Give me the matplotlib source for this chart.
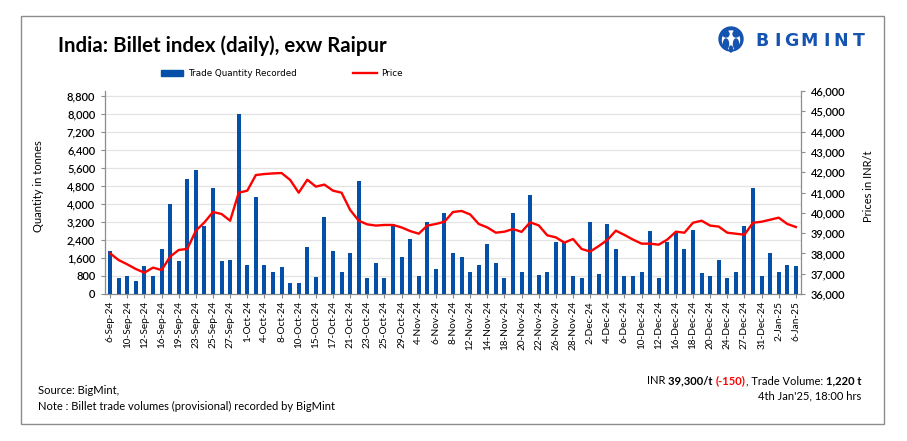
import matplotlib
matplotlib.use("Agg")
import matplotlib.pyplot as plt
from matplotlib.patches import Rectangle, Ellipse
from matplotlib.lines import Line2D
from matplotlib.font_manager import FontProperties
import numpy as np

# ---------------- data ----------------
tick_labels = ["6-Sep-24", "10-Sep-24", "12-Sep-24", "16-Sep-24", "19-Sep-24", "23-Sep-24",
               "25-Sep-24", "27-Sep-24", "1-Oct-24", "4-Oct-24", "8-Oct-24", "10-Oct-24",
               "15-Oct-24", "17-Oct-24", "21-Oct-24", "23-Oct-24", "25-Oct-24", "29-Oct-24",
               "4-Nov-24", "6-Nov-24", "8-Nov-24", "12-Nov-24", "14-Nov-24", "18-Nov-24",
               "20-Nov-24", "22-Nov-24", "26-Nov-24", "28-Nov-24", "2-Dec-24", "4-Dec-24",
               "6-Dec-24", "10-Dec-24", "12-Dec-24", "16-Dec-24", "18-Dec-24", "20-Dec-24",
               "24-Dec-24", "27-Dec-24", "31-Dec-24", "2-Jan-25", "6-Jan-25"]

quantity = [1900, 700, 800, 580, 1240, 800, 2000, 4000, 1460, 5100,
            5500, 3000, 4700, 1460, 1500, 8000, 1280, 4300, 1280, 970,
            1200, 490, 490, 2080, 750, 3400, 1900, 970, 1820, 5000,
            710, 1370, 710, 3100, 1640, 2440, 800, 3190, 1110, 3590,
            1820, 1640, 970, 1280, 2210, 1370, 710, 3590, 970, 4380,
            840, 970, 2300, 2300, 800, 710, 3190, 890, 3100, 2000,
            800, 800, 970, 2790, 710, 2300, 2750, 2000, 2830, 930,
            800, 1500, 710, 970, 3010, 4690, 800, 1820, 970, 1280, 1220]

price = [38000, 37670, 37460, 37230, 37050, 37300, 37180, 37840, 38170, 38220,
         39120, 39530, 40040, 39940, 39610, 40990, 41090, 41860, 41910, 41940,
         41960, 41620, 40990, 41630, 41290, 41390, 41090, 40990, 40140, 39610,
         39430, 39370, 39400, 39400, 39280, 39100, 38970, 39370, 39450, 39560,
         40040, 40090, 39920, 39450, 39280, 39020, 39070, 39200, 39060, 39530,
         39380, 38890, 38790, 38530, 38710, 38220, 38090, 38360, 38660, 39120,
         38910, 38680, 38480, 38480, 38430, 38680, 39070, 39020, 39510, 39610,
         39370, 39320, 39020, 38970, 38920, 39510, 39560, 39660, 39760, 39450, 39300]

qty_ticks = list(range(0, 8801, 800))
price_ticks = list(range(36000, 46001, 1000))

# ---------------- style ----------------
FONT = "Lato"
BLUE = "#0450A8"
RED = "#FF0000"
W, H = 907, 441

fig = plt.figure(figsize=(W / 100, H / 100), dpi=100)
fig.patch.set_facecolor("white")

def fx(px):
    return px / W

def fy(py):
    return 1 - py / H

# outer frame
fig.add_artist(Rectangle((fx(21), fy(424)), fx(884) - fx(21), fy(16) - fy(424),
                         transform=fig.transFigure, fill=False, edgecolor="#8c8c8c", lw=1.0))

left_px, right_px, top_px, bot_px = 105, 801, 91, 294
ax = fig.add_axes([fx(left_px), fy(bot_px), fx(right_px) - fx(left_px), fy(top_px) - fy(bot_px)])
ax2 = ax.twinx()

x = np.arange(len(quantity))
ax.bar(x, quantity, width=0.48, color=BLUE, zorder=3)
ax2.plot(x, price, color=RED, lw=1.7, zorder=4)

ax.set_xlim(-0.6, len(quantity) - 0.4)
ax.set_ylim(0, 9000)
ax2.set_ylim(36000, 46000)
ax.set_yticks(qty_ticks)
ax.set_yticklabels([f"{v:,}" for v in qty_ticks], fontfamily=FONT, fontsize=8, fontweight="semibold")
ax2.set_yticks(price_ticks)
ax2.set_yticklabels([f"{v:,}" for v in price_ticks], fontfamily=FONT, fontsize=8, fontweight="semibold")
ax.set_xticks(x[::2])
ax.set_xticklabels(tick_labels, rotation=90, fontfamily=FONT, fontsize=7.2)

ax.grid(axis="y", color="#e3e3e3", lw=0.9, zorder=0)
ax.set_axisbelow(True)
for a in (ax, ax2):
    a.spines["top"].set_visible(False)
    for s in ("left", "right", "bottom"):
        a.spines[s].set_color("#8c8c8c")
        a.spines[s].set_linewidth(0.9)
ax.spines["right"].set_visible(False)
ax2.spines["left"].set_visible(False)
ax2.spines["bottom"].set_visible(False)
ax.tick_params(axis="y", length=3, color="#8c8c8c", pad=4)
ax2.tick_params(axis="y", length=3, color="#8c8c8c", pad=4)
ax.tick_params(axis="x", length=3, color="#8c8c8c", pad=2)

fig.text(fx(38), fy(186), "Quantity in tonnes", rotation=90, ha="center", va="center",
         fontfamily=FONT, fontsize=8)
fig.text(fx(868), fy(186), "Prices in INR/t", rotation=90, ha="center", va="center",
         fontfamily=FONT, fontsize=8)

# title
fig.text(fx(58), fy(46), "India: Billet index (daily), exw Raipur", ha="left", va="center",
         fontfamily=FONT, fontsize=14.7, fontweight="bold")

# legend
fig.add_artist(Rectangle((fx(161), fy(76)), fx(183) - fx(161), fy(70) - fy(76),
                         transform=fig.transFigure, color=BLUE))
fig.text(fx(188), fy(73), "Trade Quantity Recorded", ha="left", va="center",
         fontfamily="DejaVu Sans", fontsize=6.3)
fig.add_artist(Line2D([fx(353), fx(377)], [fy(73), fy(73)], transform=fig.transFigure,
                      color=RED, lw=1.7))
fig.text(fx(381), fy(73), "Price", ha="left", va="center",
         fontfamily="DejaVu Sans", fontsize=6.3)

# logo
LOGO = "#1553B0"
def ell(cx, cy, wpx, hpx, col):
    fig.add_artist(Ellipse((fx(cx), fy(cy)), wpx / W, hpx / H, transform=fig.transFigure,
                           color=col))
ell(731, 39, 24, 24, LOGO)
ell(731, 40, 17, 18, "white")
ell(726, 34, 6, 6, LOGO)
ell(736, 34, 6, 6, LOGO)
ell(726, 44, 5, 10, LOGO)
ell(736, 44, 5, 10, LOGO)
ell(731, 49, 3, 6, LOGO)
letters = "BIGMINT"
lx = [762, 778, 791, 809, 827, 841, 859]
for ch, px in zip(letters, lx):
    fig.text(fx(px), fy(41), ch, ha="center", va="center", fontfamily="DejaVu Sans",
             fontsize=12.5, fontweight="heavy", color=LOGO)

# footer
FS = 8
fig.text(fx(38), fy(390), "Source: BigMint,", ha="left", va="center", fontfamily=FONT, fontsize=FS)
fig.text(fx(38), fy(406), "Note : Billet trade volumes (provisional) recorded by BigMint",
         ha="left", va="center", fontfamily=FONT, fontsize=FS)

pieces = [("INR ", "normal", "black"), ("39,300/t ", "bold", "black"),
          ("(-150)", "bold", RED), (", Trade Volume: ", "normal", "black"),
          ("1,220 t", "bold", "black")]
renderer = fig.canvas.get_renderer()
widths = []
for s, wgt, col in pieces:
    prop = FontProperties(family=FONT, size=FS, weight=wgt)
    w_, h_, d_ = renderer.get_text_width_height_descent(s, prop, ismath=False)
    widths.append(w_)
right_edge = 861
cur = right_edge - sum(widths)
for (s, wgt, col), wdt in zip(pieces, widths):
    fig.text(fx(cur), fy(381), s, ha="left", va="center", fontfamily=FONT, fontsize=FS,
             fontweight=wgt, color=col)
    cur += wdt
fig.text(fx(861), fy(396), "4th Jan'25, 18:00 hrs", ha="right", va="center",
         fontfamily=FONT, fontsize=FS)

fig.savefig("out.png", dpi=100, facecolor="white")
